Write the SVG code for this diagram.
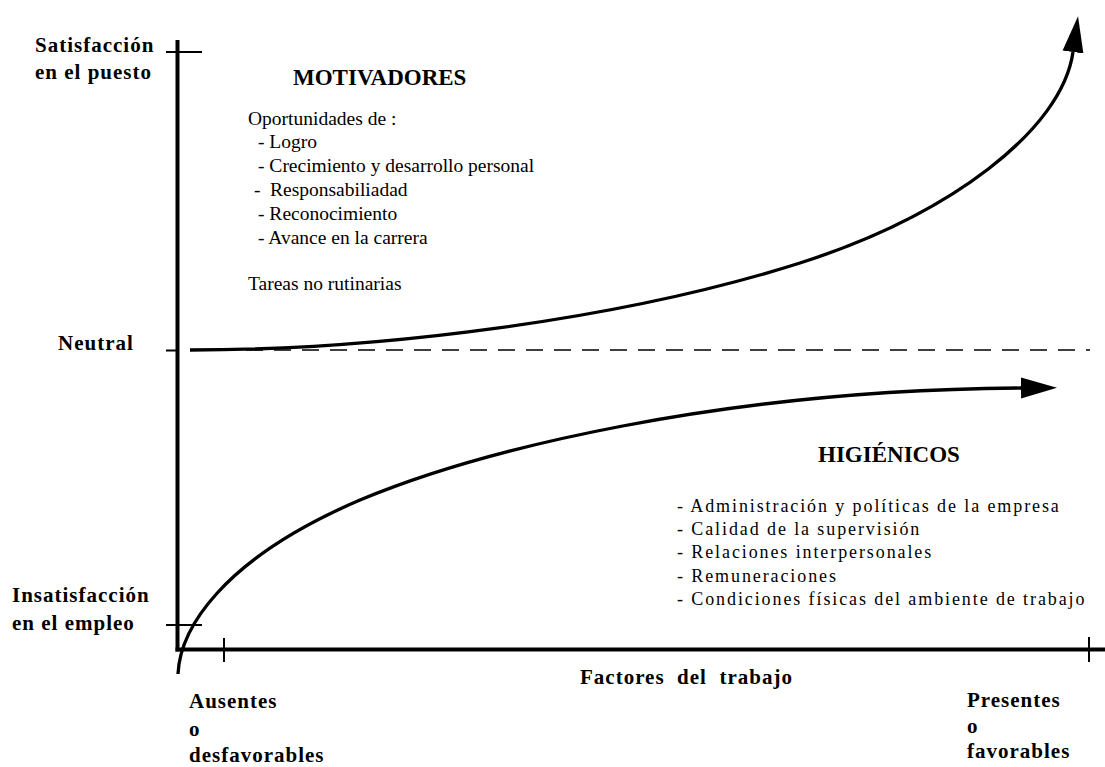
<svg xmlns="http://www.w3.org/2000/svg" width="1105" height="767" viewBox="0 0 1105 767">
<style>
.lbl{font-family:"Liberation Serif","Times New Roman",serif;font-weight:bold;font-size:21px;letter-spacing:1px;fill:#000}
.ttl{font-family:"Liberation Serif","Times New Roman",serif;font-weight:bold;font-size:23px;fill:#000}
.mot{font-family:"Liberation Serif","Times New Roman",serif;font-size:19.5px;fill:#000}
.hyg{font-family:"Liberation Serif","Times New Roman",serif;font-size:18px;letter-spacing:1.9px;fill:#000}
.axis{stroke:#000;stroke-width:4;fill:none}
.tick{stroke:#000;stroke-width:2;fill:none}
.curve{stroke:#000;stroke-width:3.3;fill:none;marker-end:url(#arrow)}
</style>
<defs>
<marker id="arrow" markerUnits="userSpaceOnUse" markerWidth="40" markerHeight="24" viewBox="0 -12 40 24" refX="0" refY="0" orient="auto">
<path d="M0,-10.5 L36,0 L0,10.5 Z" fill="#000"/>
</marker>
</defs>
<rect width="1105" height="767" fill="#fff"/>
<g id="axes">
<line class="axis" x1="177.5" y1="40" x2="177.5" y2="651.5"/>
<line class="axis" x1="175.5" y1="649.5" x2="1105" y2="649.5"/>
<line class="tick" x1="166" y1="52" x2="202" y2="52"/>
<line class="tick" x1="166" y1="350.5" x2="178" y2="350.5"/>
<line class="tick" x1="166" y1="625" x2="202" y2="625"/>
<line class="tick" x1="224" y1="638" x2="224" y2="662"/>
<line class="tick" x1="1089" y1="637" x2="1089" y2="662"/>
<line x1="190" y1="350" x2="1090" y2="350" stroke="#000" stroke-width="1.5" stroke-dasharray="17,11"/>
</g>
<g id="connectors">
<path id="motivadores-curve" class="curve" d="M190,350 C380,350 620,320 800,263 C950,215 1062,130 1073,52"/>
<path id="higienicos-curve" class="curve" d="M178,674 C180,630 220,560 360,500 C480,450 720,390 1021,388"/>
</g>
<g id="axis-labels">
<text class="lbl" x="35" y="52">Satisfacción</text>
<text class="lbl" x="35" y="79">en el puesto</text>
<text class="lbl" x="58" y="350">Neutral</text>
<text class="lbl" x="12" y="602">Insatisfacción</text>
<text class="lbl" x="12" y="630">en el empleo</text>
<text class="lbl" x="580" y="684" xml:space="preserve">Factores  del  trabajo</text>
<text class="lbl" x="189" y="708">Ausentes</text>
<text class="lbl" x="189" y="736">o</text>
<text class="lbl" x="189" y="762">desfavorables</text>
<text class="lbl" x="967" y="707">Presentes</text>
<text class="lbl" x="967" y="733">o</text>
<text class="lbl" x="967" y="758">favorables</text>
</g>
<g id="motivadores">
<text class="ttl" x="293" y="85">MOTIVADORES</text>
<text class="mot" x="248" y="125">Oportunidades de :</text>
<text class="mot" x="258" y="148">- Logro</text>
<text class="mot" x="258" y="172">- Crecimiento y desarrollo personal</text>
<text class="mot" y="196"><tspan x="254">-</tspan><tspan x="270">Responsabiliadad</tspan></text>
<text class="mot" x="258" y="220">- Reconocimiento</text>
<text class="mot" x="258" y="244">- Avance en la carrera</text>
<text class="mot" x="248" y="290">Tareas no rutinarias</text>
</g>
<g id="higienicos">
<text class="ttl" x="818" y="462">HIGIÉNICOS</text>
<text class="hyg" x="677" y="512">- Administración y políticas de la empresa</text>
<text class="hyg" x="677" y="535">- Calidad de la supervisión</text>
<text class="hyg" x="677" y="558">- Relaciones interpersonales</text>
<text class="hyg" x="677" y="582">- Remuneraciones</text>
<text class="hyg" x="677" y="605">- Condiciones físicas del ambiente de trabajo</text>
</g>
</svg>
